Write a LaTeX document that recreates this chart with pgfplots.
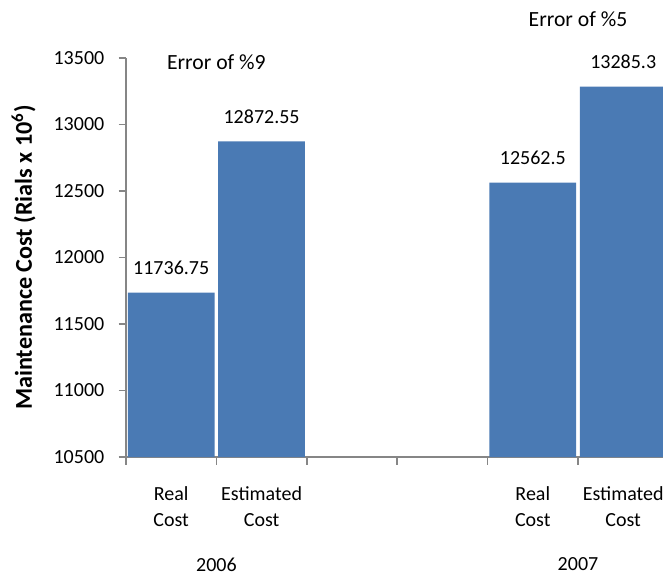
\documentclass[border=0pt]{standalone}
\usepackage{pgfplots}
\pgfplotsset{compat=1.18}
\usepackage{fontspec}
\setmainfont{Carlito}

\definecolor{barblue}{RGB}{74,122,180}
\definecolor{axisgray}{RGB}{134,134,134}

\begin{document}
\begin{tikzpicture}
\begin{axis}[
  at={(75.6pt,72pt)}, anchor=south west,
  scale only axis,
  width=325.44pt, height=239.4pt,
  xmin=-0.5, xmax=5.5,
  ymin=10500, ymax=13500,
  ytick={10500,11000,...,13500},
  scaled y ticks=false,
  yticklabel style={/pgf/number format/fixed, /pgf/number format/precision=0},
  xtick={-0.5,0.5,...,5.5},
  xticklabels={},
  extra x ticks={0,1,4,5},
  extra x tick labels={Real\\Cost, Estimated\\Cost, Real\\Cost, Estimated\\Cost},
  extra x tick style={
    major tick length=0pt,
    tick label style={align=center, font=\fontsize{12}{16}\selectfont, yshift=-14pt},
  },
  axis x line=bottom, axis y line=left,
  axis line style={-, draw=axisgray, line width=0.9pt},
  tick style={draw=axisgray, line width=0.9pt},
  tick align=outside,
  major tick length=4.5pt,
  /pgf/number format/assume math mode=true,
  /pgf/number format/1000 sep={},
  yticklabel style={font=\fontsize{12}{14}\selectfont, xshift=-5pt},
  ylabel={\textbf{Maintenance Cost (Rials x 10\textsuperscript{6})}},
  ylabel style={at={(axis description cs:-0.189,0.5)}, anchor=center,
    font=\fontsize{14.5}{17}\selectfont},
  clip mode=individual,
  ybar, bar width=0.96, bar shift=0pt,
  nodes near coords,
  point meta=explicit symbolic,
  every node near coord/.append style={font=\fontsize{12}{14}\selectfont, anchor=south, yshift=7.4pt},
]
\addplot[fill=barblue, draw=none] coordinates {
  (0,11736.75) [11736.75]
  (1,12872.55) [12872.55]
  (4,12562.5)  [12562.5]
  (5,13285.3)  [13285.3]
};
\node[font=\fontsize{13}{15}\selectfont] at (axis cs:0.5,13466) {Error of \%9};
\node[font=\fontsize{13}{15}\selectfont] at (axis cs:4.5,13789) {Error of \%5};
\node[font=\fontsize{12}{14}\selectfont] at (axis cs:0.5,9692) {2006};
\node[font=\fontsize{12}{14}\selectfont] at (axis cs:4.5,9692) {2007};
\end{axis}
\pgfresetboundingbox
\useasboundingbox (0,0) rectangle (397.8pt,346.2pt);
\end{tikzpicture}
\end{document}
